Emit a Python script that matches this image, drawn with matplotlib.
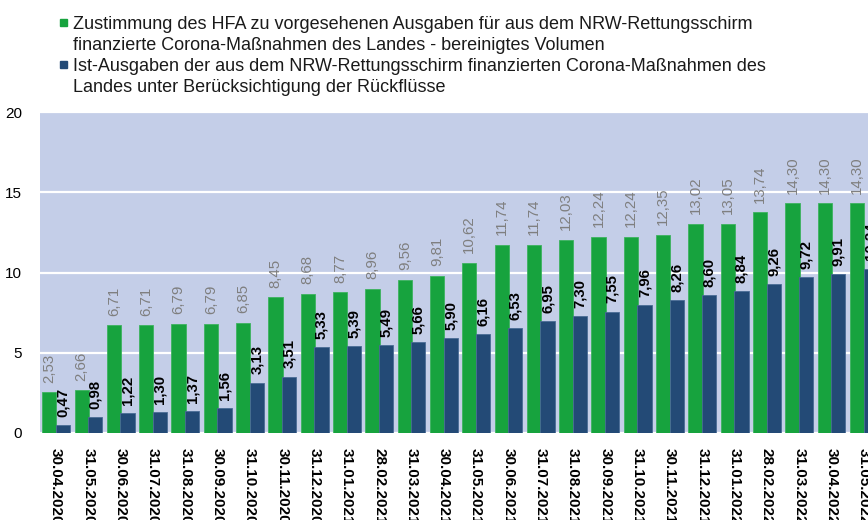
import numpy as np
import matplotlib
matplotlib.use('Agg')
import matplotlib.pyplot as plt
from matplotlib.patches import Rectangle

plt.rcParams['font.family'] = ['Liberation Sans', 'DejaVu Sans']

# DATA

dates = ['30.04.2020', '31.05.2020', '30.06.2020', '31.07.2020', '31.08.2020',
         '30.09.2020', '31.10.2020', '30.11.2020', '31.12.2020', '31.01.2021',
         '28.02.2021', '31.03.2021', '30.04.2021', '31.05.2021', '30.06.2021',
         '31.07.2021', '31.08.2021', '30.09.2021', '31.10.2021', '30.11.2021',
         '31.12.2021', '31.01.2022', '28.02.2022', '31.03.2022', '30.04.2022',
         '31.05.2022']

zustimmung = [2.53, 2.66, 6.71, 6.71, 6.79, 6.79, 6.85, 8.45, 8.68, 8.77,
              8.96, 9.56, 9.81, 10.62, 11.74, 11.74, 12.03, 12.24, 12.24, 12.35,
              13.02, 13.05, 13.74, 14.30, 14.30, 14.30]

ist_ausgaben = [0.47, 0.98, 1.22, 1.30, 1.37, 1.56, 3.13, 3.51, 5.33, 5.39,
                5.49, 5.66, 5.90, 6.16, 6.53, 6.95, 7.30, 7.55, 7.96, 8.26,
                8.60, 8.84, 9.26, 9.72, 9.91, 10.24]

label_green = ['Zustimmung des HFA zu vorgesehenen Ausgaben für aus dem NRW-Rettungsschirm',
               'finanzierte Corona-Maßnahmen des Landes - bereinigtes Volumen']
label_blue = ['Ist-Ausgaben der aus dem NRW-Rettungsschirm finanzierten Corona-Maßnahmen des',
              'Landes unter Berücksichtigung der Rückflüsse']

GREEN = '#17A33E'
BLUE = '#234A76'
BG = '#C4CEE8'


def fmt(v):
    return f'{v:.2f}'.replace('.', ',')


# FIGURE

fig = plt.figure(figsize=(8.68, 5.2), dpi=100)

# plot area runs past the right edge like in the original screenshot
ax = fig.add_axes([40 / 868, 87 / 520, 840 / 868, 321 / 520])
ax.set_facecolor(BG)

x = np.arange(len(dates))
w = 0.44

ax.bar(x - 0.21, zustimmung, w, color=GREEN, edgecolor='#3DB35F', linewidth=0.6, zorder=3)
ax.bar(x + 0.21, ist_ausgaben, w, color=BLUE, edgecolor='#4A6C96', linewidth=0.6, zorder=3)

for i in range(len(dates)):
    ax.annotate(fmt(zustimmung[i]), (x[i] - 0.21, zustimmung[i]), xytext=(0, 7),
                textcoords='offset points', rotation=90, ha='center', va='bottom',
                fontsize=10.8, color='#7F7F7F', zorder=4)
    ax.annotate(fmt(ist_ausgaben[i]), (x[i] + 0.21, ist_ausgaben[i]), xytext=(0, 6),
                textcoords='offset points', rotation=90, ha='center', va='bottom',
                fontsize=10.8, color='black', fontweight='bold', zorder=4)

ax.set_xlim(-0.5, len(dates) - 0.5)
ax.set_ylim(0, 20)
ax.set_yticks([0, 5, 10, 15, 20])
ax.yaxis.grid(True, color='white', linewidth=1.6, zorder=1)
ax.set_axisbelow(True)

ax.set_xticks(x)
ax.set_xticklabels(dates, rotation=-90, fontsize=11, fontweight='bold', va='top', ha='center')
ax.tick_params(axis='both', length=0)
ax.tick_params(axis='x', pad=11)
ax.tick_params(axis='y', pad=13, labelsize=11)
for s in ax.spines.values():
    s.set_visible(False)

# LEGEND (drawn by hand, squares sit on the first line)

fig.add_artist(Rectangle((60 / 868, 1 - 26 / 520), 7 / 868, 7 / 520,
                         transform=fig.transFigure, color=GREEN))
fig.add_artist(Rectangle((60 / 868, 1 - 68 / 520), 7 / 868, 7 / 520,
                         transform=fig.transFigure, color=BLUE))

baselines = [29, 50, 71, 92]
for line, yb in zip(label_green + label_blue, baselines):
    fig.text(73 / 868, 1 - yb / 520, line, fontsize=13, color='#1A1A1A',
             va='baseline', ha='left')

fig.savefig('out.png', dpi=100)
